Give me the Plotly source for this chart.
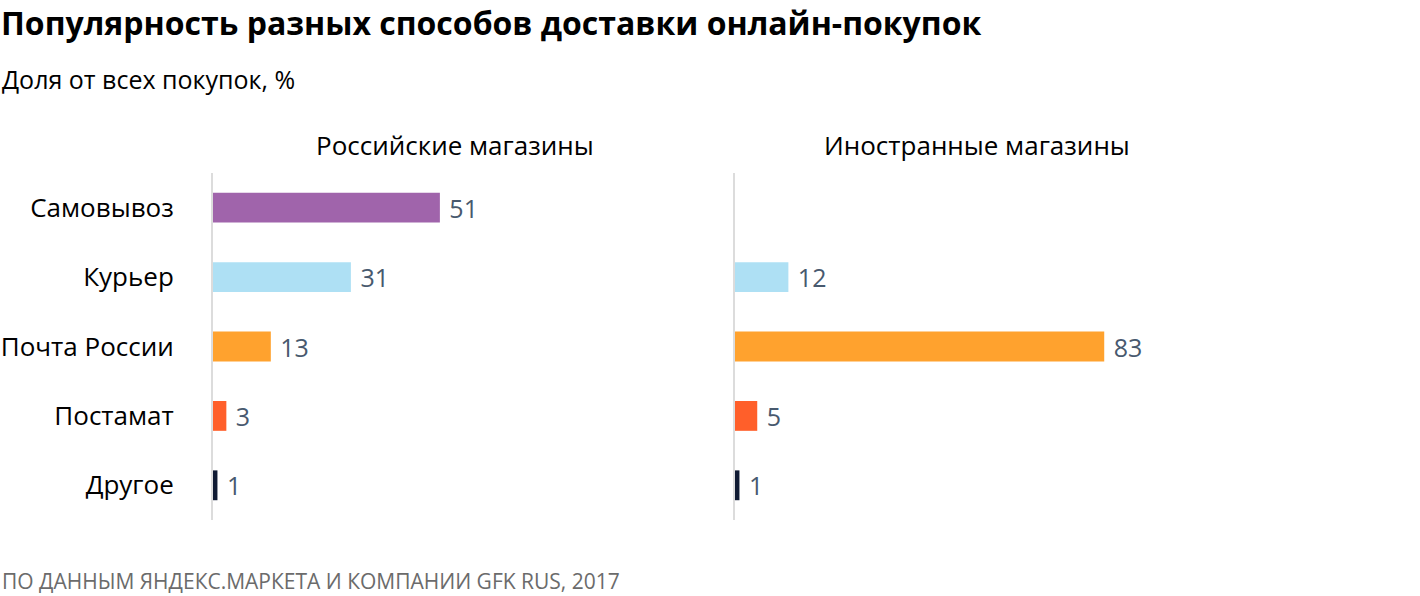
import plotly.graph_objects as go

categories = ["Самовывоз", "Курьер", "Почта России", "Постамат", "Другое"]
russian_shops = [51, 31, 13, 3, 1]
foreign_shops = [None, 12, 83, 5, 1]
colors = ["#a064ab", "#aee0f4", "#ffa22e", "#ff5f2a", "#0f1a33"]
panel_titles = ["Российские магазины", "Иностранные магазины"]

FONT = "Open Sans"
W, H = 1420, 596
label_color = "#48596e"

fig = go.Figure()

for i, vals in enumerate([russian_shops, foreign_shops]):
    sfx = "" if i == 0 else str(i + 1)
    fig.add_trace(go.Bar(
        y=categories, x=vals, orientation="h",
        marker=dict(color=colors, line=dict(width=0)),
        width=0.43,
        text=[("" if v is None else f" {v}") for v in vals],
        textposition="outside",
        constraintext="none",
        textfont=dict(family=FONT, size=25, color=label_color),
        cliponaxis=False,
        xaxis="x" + sfx, yaxis="y" + sfx,
        showlegend=False, hoverinfo="skip",
    ))

xrange = [0, 108.8]
y0, y1 = (596 - 520) / 596, (596 - 173) / 596
doms = [[213 / W, 697 / W], [735 / W, 1219 / W]]

layout = dict(
    width=W, height=H,
    margin=dict(l=0, r=0, t=0, b=0),
    paper_bgcolor="white", plot_bgcolor="white",
    font=dict(family=FONT, color="#000"),
    bargap=0.5,
)
for i in range(2):
    sfx = "" if i == 0 else str(i + 1)
    layout["xaxis" + sfx] = dict(domain=doms[i], range=xrange, visible=False, fixedrange=True,
                                 anchor="y" + sfx)
    layout["yaxis" + sfx] = dict(
        domain=[y0, y1], anchor="x" + sfx,
        categoryorder="array", categoryarray=categories[::-1],
        range=[-0.5, 4.5],
        showline=True, linecolor="#dcdcdc", linewidth=2,
        showgrid=False, zeroline=False,
        ticks="", showticklabels=(i == 0),
        ticklabelstandoff=32,
        tickfont=dict(family=FONT, size=26, color="#000"),
        automargin=False, fixedrange=True,
    )
fig.update_layout(**layout)

annotations = [
    dict(text="<b>Популярность разных способов доставки онлайн-покупок</b>",
         x=0, y=1 - 22 / H, xref="paper", yref="paper", xanchor="left", yanchor="middle",
         borderpad=0,
         showarrow=False, font=dict(family=FONT, size=32, color="#000")),
    dict(text="Доля от всех покупок, %",
         x=0, y=1 - 79 / H, xref="paper", yref="paper", xanchor="left", yanchor="middle",
         showarrow=False, font=dict(family=FONT, size=25, color="#000")),
    dict(text="ПО ДАННЫМ ЯНДЕКС.МАРКЕТА И КОМПАНИИ GFK RUS, 2017",
         x=0, y=1 - 581 / H, xref="paper", yref="paper", xanchor="left", yanchor="middle",
         showarrow=False, font=dict(family=FONT, size=21, color="#6b6b6b")),
]
for i, t in enumerate(panel_titles):
    annotations.append(dict(text=t, x=(doms[i][0] + doms[i][1]) / 2, y=1 - 145 / H,
                            xref="paper", yref="paper", xanchor="center", yanchor="middle",
                            showarrow=False, font=dict(family=FONT, size=26, color="#000")))
fig.update_layout(annotations=annotations)

fig.write_html("out.html", config={"displayModeBar": False})
